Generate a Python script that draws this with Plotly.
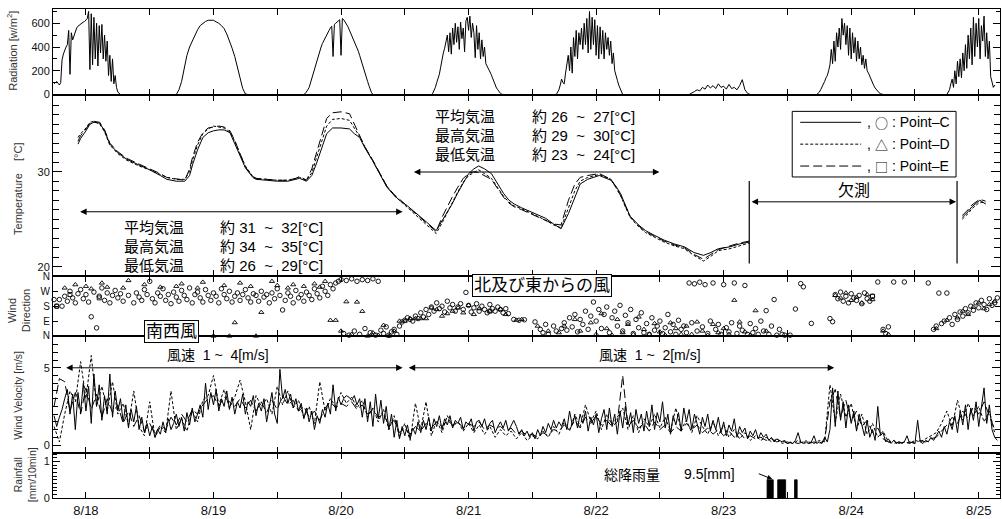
import plotly.graph_objects as go

# ---------------- DATA (hours counted from 8/18 00:00) ----------------
DAY_LABELS = ["8/18", "8/19", "8/20", "8/21", "8/22", "8/23", "8/24", "8/25"]

# Radiation [W/m2], one list per day with its start hour and sample step (h)
rad_starts = [6.0, 29.0, 53.0, 77.0, 100.5, 125.5, 149.5, 174.0]
rad_steps = [0.25, 0.5, 0.25, 0.25, 0.25, 0.5, 0.25, 0.25]
rad_day0 = [90, 100, 110, 95, 80, 100, 290, 340, 380, 400, 420, 540, 170, 520, 460, 500, 540, 560, 575, 585,
            595, 600, 610, 615, 625, 640, 700, 210, 680, 250, 650, 300, 600, 240, 580, 350, 590, 300, 500, 280,
            450, 160, 330, 110, 300, 90, 160, 60, 20, 5, 0]
rad_day1 = [0, 40, 110, 230, 330, 400, 450, 500, 545, 580, 600, 615, 625, 628, 625, 612, 600, 580, 555, 510,
            455, 390, 320, 220, 140, 50, 5, 0]
rad_day2 = [0, 8, 20, 40, 60, 100, 140, 180, 220, 260, 300, 335, 370, 400, 430, 455, 480, 500, 520, 540,
            560, 575, 320, 590, 600, 610, 620, 630, 330, 640, 630, 615, 600, 575, 550, 525, 500, 475, 450, 425,
            400, 365, 330, 290, 250, 215, 180, 145, 110, 75, 40, 15, 0]
rad_day3 = [0, 10, 30, 60, 100, 130, 170, 230, 300, 350, 390, 440, 500, 360, 520, 340, 560, 420, 600, 440,
            570, 380, 610, 470, 560, 360, 620, 650, 540, 660, 480, 600, 520, 310, 580, 380, 520, 300, 460, 320,
            400, 260, 240, 220, 200, 170, 140, 110, 80, 55, 40, 20, 10, 3, 0]
rad_day4 = [0, 15, 40, 80, 130, 100, 90, 180, 260, 330, 200, 400, 180, 480, 320, 540, 300, 520, 420, 560,
            380, 600, 420, 640, 350, 700, 380, 650, 420, 630, 330, 580, 300, 570, 340, 540, 300, 520, 380, 480,
            330, 450, 260, 350, 200, 150, 120, 80, 50, 20, 0]
rad_day5 = [0, 10, 25, 40, 30, 60, 45, 80, 55, 75, 50, 90, 60, 70, 45, 85, 50, 60, 40, 75, 125, 40, 10, 0]
rad_day6 = [0, 10, 20, 40, 60, 90, 110, 140, 160, 200, 250, 380, 260, 450, 280, 520, 400, 560, 380, 640,
            500, 600, 420, 580, 330, 560, 300, 520, 350, 480, 280, 450, 300, 400, 250, 330, 220, 300, 200, 180,
            150, 120, 100, 75, 55, 40, 25, 15, 8, 3, 0]
rad_day7 = [0, 20, 40, 90, 130, 60, 200, 90, 280, 150, 300, 140, 350, 200, 420, 220, 500, 300, 560, 250,
            650, 320, 600, 400, 640, 300, 580, 450, 660, 320, 520, 300, 450, 150, 100, 60, 80]
rad_days = [rad_day0, rad_day1, rad_day2, rad_day3, rad_day4, rad_day5, rad_day6, rad_day7]

# Temperature [degC] for Point-C, D, E (None = missing data)
temp_hours = [10.5, 11.0, 12.0, 12.75, 13.5, 14.6, 15.5, 16.5, 18.0, 19.7, 22.0, 24.0, 26.0, 27.2, 29.0, 30.6,
              31.5, 32.1, 33.0, 34.0, 35.0, 36.0, 37.0, 38.0, 39.1, 40.0, 40.9, 42.0, 43.4, 44.0, 46.0, 48.0,
              50.0, 51.5, 52.2, 53.5, 54.5, 55.4, 56.5, 57.3, 58.4, 60.0, 61.6, 62.5, 63.5, 64.5, 65.9, 67.0,
              68.6, 70.0, 71.0, 72.5, 73.8, 75.0, 76.1, 77.9, 79.0, 79.7, 80.9, 81.9, 83.0, 84.0, 85.0, 85.9,
              87.0, 88.3, 89.5, 90.6, 91.6, 92.6, 94.0, 95.6, 97.0, 98.5, 100.0, 101.4, 102.8, 104.0, 105.0, 106.4,
              108.6, 110.8, 111.7, 112.6, 113.5, 114.4, 116.0, 117.3, 119.0, 120.8, 122.7, 124.6, 126.4, 128.2, 129.6, 131.0,
              133.2, 135.0, 136.8, 150.0, 176.9, 178.0, 178.7, 180.2, 181.3]
temp_C = [32.9, 33.5, 34.3, 35.0, 35.2, 35.1, 34.3, 32.9, 32.0, 31.3, 30.7, 30.2, 29.6, 29.2, 29.0, 29.0,
          29.6, 30.8, 32.3, 33.6, 34.1, 34.3, 34.4, 34.4, 34.1, 33.0, 31.8, 30.4, 29.4, 29.2, 29.1, 29.0,
          29.0, 29.2, 29.3, 29.0, 29.6, 30.9, 32.8, 34.0, 34.6, 34.6, 34.5, 34.0, 33.6, 32.5, 31.2, 30.0,
          28.4, 27.5, 27.0, 26.4, 25.8, 25.2, 24.7, 23.8, 24.8, 25.4, 26.6, 27.7, 28.8, 29.8, 30.3, 30.6,
          30.3, 29.8, 28.7, 27.7, 27.0, 26.6, 26.2, 25.8, 25.5, 25.1, 24.5, 24.0, 25.6, 27.4, 28.7, 29.2,
          29.6, 29.1, 28.5, 27.7, 26.5, 25.3, 24.4, 23.8, 23.3, 22.8, 22.4, 22.1, 21.5, 21.2, 21.5, 21.9,
          22.1, 22.4, 22.6, None, 25.2, 25.8, 26.3, 27.0, 26.6]
temp_D = [33.6, 34.0, 34.6, 35.2, 35.3, 35.0, 34.2, 32.8, 31.9, 31.2, 30.6, 30.2, 29.7, 29.4, 29.2, 29.2,
          30.0, 31.3, 32.8, 34.0, 34.5, 34.8, 34.7, 34.6, 34.2, 33.2, 32.0, 30.6, 29.5, 29.3, 29.2, 29.1,
          29.1, 29.3, 29.4, 29.1, 29.9, 31.5, 33.5, 34.8, 35.5, 35.6, 35.4, 34.6, 33.7, 32.6, 31.2, 30.0,
          28.5, 27.5, 27.0, 26.3, 25.6, 25.0, 24.4, 23.5, 24.6, 25.4, 26.8, 27.8, 28.9, 29.6, 29.9, 30.2,
          29.8, 29.3, 28.3, 27.4, 26.8, 26.4, 26.1, 25.7, 25.3, 24.9, 24.4, 24.1, 26.2, 28.0, 29.0, 29.4,
          29.7, 29.2, 28.4, 27.5, 26.3, 25.2, 24.2, 23.6, 23.1, 22.6, 22.2, 21.9, 21.2, 20.6, 21.1, 21.7,
          21.9, 22.2, 22.5, None, 25.0, 25.6, 26.1, 26.8, 26.7]
temp_E = [33.2, 33.8, 34.5, 35.1, 35.3, 35.2, 34.4, 33.0, 32.1, 31.4, 30.8, 30.3, 29.8, 29.4, 29.2, 29.1,
          30.3, 31.6, 33.1, 34.1, 34.6, 34.7, 34.8, 34.7, 34.3, 33.3, 32.0, 30.5, 29.5, 29.3, 29.2, 29.1,
          29.1, 29.3, 29.5, 29.1, 30.3, 32.0, 34.2, 35.6, 36.2, 36.3, 36.1, 35.0, 33.8, 32.6, 31.3, 30.1,
          28.5, 27.6, 27.1, 26.4, 25.7, 25.1, 24.5, 23.7, 25.2, 26.0, 27.3, 28.3, 29.3, 29.8, 30.0, 29.9,
          29.6, 29.2, 28.2, 27.3, 26.7, 26.3, 26.0, 25.6, 25.3, 24.9, 24.5, 24.4, 27.0, 28.7, 29.4, 29.6,
          29.8, 29.2, 28.4, 27.5, 26.4, 25.3, 24.3, 23.7, 23.2, 22.7, 22.3, 22.0, 21.3, 20.8, 21.3, 21.8,
          22.2, 22.5, 22.7, None, 25.4, 26.0, 26.5, 27.1, 26.9]

# Wind direction [deg, 0/360 = N, 90 = E, 180 = S, 270 = W]
wd_C_start, wd_C_step = 6.0, 0.5
wd_C = [220, 180, 220, 180, 240, 210, 270, 230, 200, 255, 280, 225,
        250, 205, 116, 265, 49, 240, 290, 215, 260, 200, 245, 275,
        230, 255, 210, None, 245, None, 200, 260, 235, 215, 280, 250,
        330, 225, 200, 260, 240, 285, 215, 250, 195, 265, 235, 210,
        275, 245, 220, 290, 200, 250, 265, 230, 205, 280, 245, 215,
        260, 240, 200, 285, 250, 225, 270, 205, 240, 260, 215, 250,
        280, 230, 205, 255, 245, 210, 270, 235, 250, 200, 260, 225,
        285, 245, 157, 215, 260, 240, 200, 275, 230, 250, 210, 265,
        245, 220, 285, 255, 230, 300, 270, 245, 310, 285, 320, 330,
        340, 15, 335, 5, 345, 30, 330, 10, 340, 45, 335, 20,
        345, 5, 330, 35, 15, 55, 5, 25, 40, 10, 60, 85,
        95, 110, 100, 90, 120, 105, 140, 115, 160, 130, 175, 150,
        200, 165, 180, 145, 210, 170, 190, 150, 175, 195, 160, 263,
        185, 145, 170, 195, 150, 180, 160, 140, 190, 165, 150, 175,
        160, 140, 165, 135, None, 100, None, 95, None, 98, None, None,
        None, 85, None, 40, 20, 70, 10, None, 60, 30, None, 45,
        80, 35, 110, 55, 130, 25, 100, 70, 150, 40, 120, 205,
        90, 160, 45, 130, 175, 20, 110, 150, 60, 185, 30, 125,
        80, 160, 15, 100, 50, 140, 20, 75, 10, 110, 35, 60,
        90, 15, 50, 130, 25, 70, 10, 95, 40, 60, 20, 320,
        80, 315, 30, 325, 55, 310, 15, 90, 320, 40, 70, 10,
        310, 50, 25, 80, 320, 15, 60, 35, 305, 10, 75, 20,
        45, 10, 90, 30, 153, 10, 60, 220, 5, 40, 10, 5,
        None, 5, None, 163, None, 316, 297, None, None, 76, None, None,
        None, None, None, None, 105, 86, 250, 225, 265, 210, 240, 200,
        255, 230, 215, 245, 195, 260, 225, 210, 240, None, 326, None,
        40, 15, 55, None, 326, None, None, None, 326, None, None, None,
        None, None, None, None, None, 320, None, 40, 60, 259, 75, 90,
        259, 110, 70, 130, 100, 145, 120, 165, 140, 180, 155, 200,
        170, 215, 190, 160, 225, 185, 200, 230]
wd_D_start, wd_D_step = 6.0, 1.0
wd_D = [None, None, 290, None, 310, None, 300, 285, None, 320, 295, None,
        None, 290, 335, None, None, 310, None, None, 295, None, None, 300,
        315, None, None, 290, 325, None, 0, None, 305, 0, 81, 320,
        None, 300, 0, 143, None, 330, 305, None, 290, 310, None, 300,
        None, 315, 295, 330, 95, 95, 30, 207, 10, 205, 149, 0,
        20, 5, 65, 0, 30, 90, 90, 105, 105, 105, 105, 170,
        160, 120, 135, 150, 170, 140, 185, 130, 165, None, 150, None,
        160, 130, None, 96, 100, None, None, 60, None, 30, None, 20,
        60, None, 100, 30, None, 80, 10, 135, 45, 5, 100, 20,
        70, 10, 115, 40, 10, 75, 25, 5, 80, 45, 10, 60,
        10, 85, 30, 5, 70, 20, 45, 10, 216, 85, 25, 5,
        153, None, 30, None, None, None, None, None, None, None, None, None,
        None, None, None, 245, 230, 260, 215, 235, 200, 250, 220, None,
        30, 10, None, None, None, None, None, None, None, None, 45, None,
        95, None, 110, 150, 130, 175, 200, 165, 190, 210]
wd_E_hours = [6.5, 9.0, 14.5, 88.0, 160.0]
wd_E = [180, 250, 230, 150, 240]

# Wind velocity [m/s]
wv_C_start, wv_C_step = 6.0, 0.5
wv_C = [1.9, 1.2, 1.8, 2.3, 3.0, 3.6, 2.0, 3.3, 1.0, 3.4, 2.1, 4.0,
        2.2, 3.8, 1.4, 4.6, 2.5, 3.9, 1.6, 3.2, 2.0, 4.6, 1.8, 3.5,
        2.2, 3.0, 1.5, 2.6, 1.1, 2.3, 1.5, 2.5, 1.0, 1.8, 0.8, 1.4,
        0.6, 1.2, 0.5, 1.0, 0.7, 1.5, 0.8, 1.7, 1.0, 1.4, 2.0, 1.2,
        1.8, 0.9, 2.1, 1.3, 2.4, 1.5, 2.0, 2.6, 1.8, 4.0, 2.3, 3.4,
        2.6, 3.6, 2.2, 3.0, 2.5, 3.5, 2.3, 3.1, 2.0, 2.8, 2.4, 3.3,
        2.0, 2.8, 2.5, 3.2, 1.9, 2.7, 2.2, 3.0, 1.5, 2.6, 3.4, 2.0,
        1.4, 4.9, 3.0, 3.6, 2.7, 3.3, 2.4, 3.0, 2.2, 2.7, 1.7, 2.4,
        1.5, 2.2, 1.0, 1.9, 1.4, 2.3, 1.8, 2.7, 2.0, 3.9, 2.2, 3.1,
        2.6, 3.0, 3.2, 3.1, 2.9, 3.2, 2.6, 3.0, 1.8, 3.0, 1.5, 2.8,
        1.2, 3.3, 1.7, 2.9, 1.4, 2.5, 1.0, 2.0, 0.5, 1.6, 0.4, 1.2,
        0.6, 1.3, 0.4, 1.1, 0.7, 1.5, 0.8, 1.6, 1.0, 1.8, 0.9, 1.7,
        1.2, 1.9, 1.0, 1.7, 1.3, 1.9, 1.1, 1.6, 1.4, 1.8, 1.0, 1.5,
        1.3, 1.7, 0.9, 1.5, 1.6, 1.2, 1.7, 1.0, 1.4, 1.6, 0.8, 1.2,
        1.5, 1.1, 1.6, 0.9, 1.3, 1.6, 1.2, 0.7, 1.0, 0.6, 0.9, 0.5,
        0.8, 0.4, 1.0, 0.6, 1.2, 0.8, 1.4, 1.0, 1.6, 1.1, 1.5, 1.2,
        1.7, 1.0, 2.2, 1.3, 1.9, 1.1, 2.0, 1.4, 2.2, 0.9, 1.8, 1.3,
        2.0, 0.8, 1.7, 2.3, 1.0, 2.4, 1.2, 2.0, 0.7, 2.2, 1.1, 2.5,
        1.3, 2.1, 0.8, 2.3, 1.4, 2.0, 0.9, 2.2, 1.2, 2.6, 1.0, 2.1,
        1.5, 2.8, 1.1, 2.0, 0.7, 1.9, 1.3, 2.1, 0.9, 2.4, 1.5, 2.3,
        1.0, 2.0, 1.4, 0.7, 1.8, 1.2, 2.0, 0.9, 1.6, 1.0, 1.8, 0.8,
        1.5, 0.6, 1.3, 0.9, 1.7, 0.5, 1.2, 0.8, 1.1, 0.4, 0.9, 0.6,
        1.0, 0.4, 0.8, 0.5, 0.7, 0.3, 0.5, 0.2, 0.4, 0.3, 0.2, 0.3,
        0.1, 0.2, 0.1, 0.3, 0.8, 0.2, 0.1, 0.3, 0.1, 0.2, 0.6, 0.1,
        0.2, 0.1, 0.5, 0.2, 1.0, 3.7, 1.2, 3.5, 1.6, 2.8, 1.1, 2.6,
        1.4, 2.2, 0.9, 2.0, 1.2, 0.6, 1.6, 0.5, 1.0, 0.3, 2.5, 0.6,
        0.8, 0.2, 0.4, 0.1, 0.3, 0.1, 0.2, 0.1, 0.2, 0.6, 0.1, 0.2,
        0.1, 1.6, 0.2, 0.1, 0.3, 0.2, 0.5, 0.3, 0.6, 0.9, 0.5, 1.2,
        0.7, 1.5, 1.0, 1.9, 0.8, 2.2, 1.3, 2.6, 1.0, 2.4, 1.6, 2.8,
        1.2, 2.5, 3.7, 1.4, 2.6, 1.0, 0.5, 0.3]
wv_DE_start, wv_DE_step = 6.0, 1.0
wv_D = [1.2, 0.2, 2.0, 3.5, 2.8, 5.4, 3.0, 5.8, 2.5, 3.8, 2.2, 4.1,
        2.0, 2.7, 1.3, 3.5, 1.2, 0.6, 2.8, 0.5, 1.2, 0.8, 3.5, 1.0,
        1.7, 0.9, 2.2, 1.5, 2.9, 3.2, 4.5, 2.6, 3.6, 2.4, 3.1, 4.2,
        2.8, 1.0, 3.2, 2.5, 3.0, 2.0, 3.8, 2.6, 3.5, 2.4, 2.9, 1.8,
        2.5, 1.4, 4.1, 2.2, 3.0, 2.5, 3.4, 2.7, 3.1, 2.4, 2.9, 1.8,
        2.4, 1.5, 2.3, 1.0, 1.9, 0.5, 1.4, 0.3, 2.7, 1.0, 2.8, 0.6,
        1.6, 0.8, 1.9, 1.2, 1.5, 0.9, 1.4, 0.8, 1.3, 0.7, 1.2, 0.5,
        1.0, 0.6, 0.9, 0.4, 0.8, 0.3, 0.6, 0.4, 0.9, 0.5, 1.2, 0.7,
        1.5, 0.9, 2.0, 1.2, 2.6, 1.5, 2.2, 1.0, 2.0, 1.3, 1.8, 2.4,
        1.0, 1.9, 0.8, 1.7, 1.2, 2.0, 1.1, 1.8, 0.9, 2.4, 1.0, 1.6,
        0.8, 1.9, 1.2, 0.7, 1.5, 0.6, 1.3, 0.5, 1.0, 0.4, 0.8, 0.3,
        0.6, 0.3, 0.5, 0.2, 0.4, 0.1, 0.2, 0.1, 0.3, 0.1, 0.2, 0.1,
        0.3, 0.2, 3.9, 1.5, 3.3, 1.8, 2.7, 1.0, 2.0, 0.7, 1.4, 0.5,
        0.9, 0.2, 0.3, 0.1, 0.2, 0.1, 0.3, 0.2, 0.4, 0.6, 0.8, 1.4,
        2.2, 1.2, 2.9, 1.6, 2.7, 1.9, 2.5, 1.5, 2.2, 0.8]
wv_E = [2.5, 4.3, 4.1, 2.2, 3.4, 2.0, 3.7, 2.3, 3.3, 1.8, 3.0, 2.1,
        2.6, 1.4, 2.2, 1.2, 1.9, 0.9, 1.4, 0.7, 1.3, 1.0, 1.8, 1.3,
        2.0, 1.5, 2.3, 2.0, 2.6, 3.0, 3.2, 2.5, 3.1, 2.8, 2.5, 3.0,
        2.4, 2.9, 2.2, 2.8, 2.1, 2.9, 2.3, 3.2, 2.6, 2.9, 2.2, 2.5,
        1.8, 2.2, 1.6, 2.4, 2.8, 2.4, 2.7, 2.5, 2.8, 2.3, 2.6, 2.0,
        2.3, 1.8, 2.0, 1.3, 1.6, 0.8, 1.1, 0.7, 1.2, 0.9, 1.4, 1.1,
        1.5, 1.2, 1.6, 1.3, 1.5, 1.1, 1.4, 1.2, 1.5, 1.0, 1.3, 1.1,
        1.2, 0.9, 1.1, 0.7, 0.9, 0.6, 0.7, 0.5, 0.8, 0.6, 1.0, 0.9,
        1.3, 1.0, 1.6, 1.1, 1.8, 1.4, 1.9, 1.3, 1.6, 1.2, 1.5, 4.5,
        1.2, 1.6, 1.1, 1.4, 0.9, 1.5, 1.0, 1.3, 0.8, 1.2, 0.9, 1.4,
        1.0, 1.3, 0.8, 1.1, 0.7, 1.0, 0.6, 0.9, 0.5, 0.8, 0.4, 0.6,
        0.4, 0.5, 0.3, 0.4, 0.2, 0.3, 0.1, 0.2, 0.1, 0.2, 0.1, 0.2,
        0.1, 0.3, 2.8, 3.6, 1.8, 2.9, 1.5, 2.2, 1.2, 1.6, 0.8, 1.1,
        0.4, 0.2, 0.1, 0.2, 0.1, 0.2, 0.1, 0.3, 0.2, 0.4, 0.5, 0.9,
        1.3, 1.8, 1.4, 2.2, 1.7, 2.5, 2.0, 2.8, 1.9, 1.0]

# Rainfall [mm/10min] (total 9.5 mm), one value per 10-minute interval
rain_hours = [140.25, 140.42, 140.58, 140.75, 140.92, 141.08, 141.25,
              142.25, 142.42, 142.58, 142.75, 142.92, 143.08, 143.25, 143.42, 143.58,
              145.42, 145.58, 145.75]
rain_mm = [0.5, 0.5, 0.5, 0.5, 0.5, 0.5, 0.5,
           0.5, 0.5, 0.5, 0.5, 0.5, 0.5, 0.5, 0.5, 0.5,
           0.5, 0.5, 0.5]
RAIN_INTERVAL = 1.0 / 6.0

# ---------------- LAYOUT HELPERS ----------------
W, H = 1002, 519
L, R, T, B = 53, 1001, 9, 501
X_RANGE = [5.8, 184.0]


def px(x):
    return (x - L) / (R - L)


def py(y):
    return (B - y) / (B - T)


def regular(start, step, vals):
    return [start + step * i for i in range(len(vals))], vals


LAT = "Liberation Sans, Arial, sans-serif"
JP = "Liberation Sans, Noto Sans CJK JP, sans-serif"
CJK = "Noto Sans CJK JP, sans-serif"
NARROW = "Liberation Sans Narrow, Arial Narrow, Liberation Sans, Arial, sans-serif"
BLACK = "black"
DASH_D = "3px,2px"
DASH_E = "9px,4px"

fig = go.Figure()

# Radiation
rx, ry = [], []
for s, st, vals in zip(rad_starts, rad_steps, rad_days):
    xs, _ = regular(s, st, vals)
    rx += xs
    ry += vals
fig.add_trace(go.Scatter(x=rx, y=ry, mode="lines", line=dict(color=BLACK, width=1),
                         xaxis="x", yaxis="y", hoverinfo="skip", showlegend=False))

# Temperature
for vals, dash in [(temp_C, "solid"), (temp_D, DASH_D), (temp_E, DASH_E)]:
    fig.add_trace(go.Scatter(x=temp_hours, y=vals, mode="lines", connectgaps=False,
                             line=dict(color=BLACK, width=1, dash=dash),
                             xaxis="x2", yaxis="y2", hoverinfo="skip", showlegend=False))

# Wind direction
cx, cy = regular(wd_C_start, wd_C_step, wd_C)
dx_, dy_ = regular(wd_D_start, wd_D_step, wd_D)
for xs, ys, sym, size in [(cx, cy, "circle-open", 4.5), (dx_, dy_, "triangle-up-open", 4.5),
                          (wd_E_hours, wd_E, "square-open", 4)]:
    fig.add_trace(go.Scatter(x=xs, y=ys, mode="markers", cliponaxis=False,
                             marker=dict(symbol=sym, size=size, color=BLACK, line=dict(width=0.9, color=BLACK)),
                             xaxis="x3", yaxis="y3", hoverinfo="skip", showlegend=False))

# Wind velocity
vx, vy = regular(wv_C_start, wv_C_step, wv_C)
ex, _ = regular(wv_DE_start, wv_DE_step, wv_D)
ex2, _ = regular(wv_DE_start, wv_DE_step, wv_E)
for xs, ys, dash in [(ex, wv_D, DASH_D), (ex2, wv_E, DASH_E), (vx, vy, "solid")]:
    fig.add_trace(go.Scatter(x=xs, y=ys, mode="lines", line=dict(color=BLACK, width=1, dash=dash),
                             xaxis="x4", yaxis="y4", hoverinfo="skip", showlegend=False))

# Rainfall: 10-minute bars drawn as a filled step outline (avoids sub-pixel gaps)
sx, sy = [], []
for i, (c, v) in enumerate(zip(rain_hours, rain_mm)):
    x0, x1 = c - RAIN_INTERVAL / 2, c + RAIN_INTERVAL / 2
    if i == 0 or abs(x0 - (rain_hours[i - 1] + RAIN_INTERVAL / 2)) > 0.02:
        sx += [x0, x0]
        sy += [0, v]
    sx.append(x0)
    sy.append(v)
    sx.append(x1)
    sy.append(v)
    if i == len(rain_hours) - 1 or abs(rain_hours[i + 1] - RAIN_INTERVAL / 2 - x1) > 0.02:
        sx.append(x1)
        sy.append(0)
        sx.append(None)
        sy.append(None)
fig.add_trace(go.Scatter(x=sx, y=sy, mode="lines", line=dict(color=BLACK, width=0.8),
                         fill="toself", fillcolor=BLACK, xaxis="x5", yaxis="y5",
                         hoverinfo="skip", showlegend=False))

# ---------------- AXES ----------------
xt = [12 * k for k in range(1, 16)]
xtext = []
for v in xt:
    xtext.append(DAY_LABELS[(v - 12) // 24] if (v - 12) % 24 == 0 else "")

base_x = dict(range=X_RANGE, showgrid=False, zeroline=False, showline=True, linecolor=BLACK,
              linewidth=1, mirror="ticks", ticks="inside", ticklen=6, tickcolor=BLACK, tickwidth=1,
              tickmode="array", tickvals=xt, ticktext=xtext, domain=[0, 1], showticklabels=False)
base_y = dict(showgrid=False, zeroline=False, showline=True, linecolor=BLACK, linewidth=1,
              mirror="ticks", ticks="inside", tickcolor=BLACK, tickwidth=1,
              tickfont=dict(family=LAT, size=11, color="#111"))

dom_rad = [py(96), 1]
dom_tmp = [py(278), py(96)]
dom_wd = [py(338), py(278)]
dom_wv = [py(455.7), py(338)]
dom_rn = [0, py(455.7)]

layout_axes = {}
for i, yname in enumerate(["y", "y2", "y3", "y4", "y5"], start=1):
    key = "xaxis" if i == 1 else f"xaxis{i}"
    ax = dict(base_x)
    ax["anchor"] = yname
    if i > 1:
        ax["matches"] = "x"
    if i == 5:
        ax["showticklabels"] = True
        ax["tickfont"] = dict(family=NARROW, size=13, color="#111")
    layout_axes[key] = ax

layout_axes["yaxis"] = dict(base_y, domain=dom_rad, anchor="x", range=[-8, 720], tickmode="linear",
                            tick0=0, dtick=200, ticklen=7,
                            minor=dict(ticks="inside", ticklen=4, tick0=0, dtick=100, tickcolor=BLACK))
layout_axes["yaxis2"] = dict(base_y, domain=dom_tmp, anchor="x2", range=[18.99, 38.02], tickmode="linear",
                             tick0=0, dtick=10, ticklen=9,
                             minor=dict(ticks="inside", ticklen=6, tick0=0, dtick=1, tickcolor=BLACK))
layout_axes["yaxis3"] = dict(base_y, domain=dom_wd, anchor="x3", range=[0, 360], tickmode="array",
                             tickvals=[0, 90, 180, 270, 360], ticktext=["N", "E", "S", "W", "N"], ticklen=5,
                             tickfont=dict(family=LAT, size=10, color="#111"))
layout_axes["yaxis4"] = dict(base_y, domain=dom_wv, anchor="x4", range=[-0.515, 7.06], tickmode="linear",
                             tick0=0, dtick=5, ticklen=8,
                             minor=dict(ticks="inside", ticklen=5, tick0=0, dtick=0.5, tickcolor=BLACK))
layout_axes["yaxis5"] = dict(base_y, domain=dom_rn, anchor="x5", range=[0, 1.236], tickmode="linear",
                             tick0=0, dtick=1, ticklen=7,
                             minor=dict(ticks="inside", ticklen=4, tick0=0, dtick=0.1, tickcolor=BLACK))

# ---------------- ANNOTATIONS ----------------
ann = []
shapes = []


def text(x, y, s, size=15, anchor="left", font=JP, **kw):
    ann.append(dict(x=px(x), y=py(y), xref="paper", yref="paper", text=s, showarrow=False,
                    xanchor=anchor, yanchor="middle", font=dict(family=font, size=size, color=BLACK), **kw))


def darrow(x1, x2, y):
    ann.append(dict(x=px(x2), y=py(y), xref="paper", yref="paper", text="", showarrow=True,
                    ax=-(x2 - x1), ay=0, axref="pixel", ayref="pixel", arrowside="end+start",
                    arrowhead=2, startarrowhead=2, arrowsize=1.3, startarrowsize=1.3,
                    arrowwidth=1, arrowcolor=BLACK, standoff=0, startstandoff=0))


NB = "\u00a0"
# left temperature group
darrow(79, 403, 213)
for yy, lab, val in [(229, "平均気温", f"約{NB}31{NB}{NB}~{NB}{NB}32[°C]"),
                     (248, "最高気温", f"約{NB}34{NB}{NB}~{NB}{NB}35[°C]"),
                     (267, "最低気温", f"約{NB}26{NB}{NB}~{NB}{NB}29[°C]")]:
    text(122, yy, lab)
    text(218, yy, val)
# upper temperature group
darrow(413, 660, 173)
for yy, lab, val in [(117, "平均気温", f"約{NB}26{NB}{NB}~{NB}{NB}27[°C]"),
                     (136, "最高気温", f"約{NB}29{NB}{NB}~{NB}{NB}30[°C]"),
                     (155, "最低気温", f"約{NB}23{NB}{NB}~{NB}{NB}24[°C]")]:
    text(433, yy, lab)
    text(531, yy, val)

# missing data marker
for xx in (750, 958):
    shapes.append(dict(type="line", xref="paper", yref="paper", x0=px(xx), x1=px(xx),
                       y0=py(265), y1=py(182), line=dict(color=BLACK, width=1.2)))
darrow(751, 957, 203)
text(855, 192, "欠測", size=16, anchor="center")

# legend box
shapes.append(dict(type="rect", xref="paper", yref="paper", x0=px(793), x1=px(957), y0=py(178), y1=py(112),
                   line=dict(color=BLACK, width=1), fillcolor="white"))
for yy, dash in [(123, "solid"), (145, DASH_D), (167, DASH_E)]:
    shapes.append(dict(type="line", xref="paper", yref="paper", x0=px(801), x1=px(862), y0=py(yy), y1=py(yy),
                       line=dict(color=BLACK, width=1, dash=dash)))
for yy, sym, lab in [(123, "○", "Point–C"), (145, "△", "Point–D"), (167, "□", "Point–E")]:
    text(866, yy, ",", size=14, font=LAT)
    text(882, yy, sym, size=13, anchor="center", font=CJK)
    text(891, yy, f":{NB}{lab}", size=14, font=LAT)

# wind direction boxes
ann.append(dict(x=px(543), y=py(287), xref="paper", yref="paper", text="北及び東からの風", showarrow=False,
                xanchor="center", yanchor="middle",
                font=dict(family=JP, size=17, color=BLACK), bgcolor="white", bordercolor=BLACK,
                borderwidth=1, borderpad=1))
ann.append(dict(x=px(172), y=py(333), xref="paper", yref="paper", text="南西風", showarrow=False,
                xanchor="center", yanchor="middle",
                font=dict(family=JP, size=17, color=BLACK), bgcolor="white", bordercolor=BLACK,
                borderwidth=1, borderpad=1))

# wind velocity
darrow(65, 403, 370)
text(218, 357, f"風速{NB}{NB}1{NB}~{NB}{NB}4[m/s]", size=14, anchor="center")
darrow(408, 835, 370)
text(651, 357, f"風速{NB}{NB}1{NB}~{NB}{NB}2[m/s]", size=14, anchor="center")

# rainfall text
text(603, 477, "総降雨量", size=14, font=CJK)
text(683, 477, "9.5[mm]", size=14, font=NARROW)
ann.append(dict(x=px(773), y=py(482), xref="paper", yref="paper", text="", showarrow=True,
                ax=-15, ay=-6, arrowhead=2, arrowsize=1, arrowwidth=1, arrowcolor=BLACK, standoff=0))


# y axis titles
def ytitle(x, y, s, size=11):
    ann.append(dict(x=px(x), y=py(y), xref="paper", yref="paper", text=s, showarrow=False, textangle=-90,
                    xanchor="center", yanchor="middle", font=dict(family=LAT, size=size, color="#333")))


ytitle(12, 51, "Radiation [w/m<sup>2</sup>]")
ytitle(18, 190, f"Temperature{NB}{NB}{NB}{NB}[°C]")
ytitle(19, 313, "Wind<br>Direction")
ytitle(18, 398, "Wind Velocity [m/s]", size=10.5)
ytitle(25, 478, "Rainfall<br>[mm/10min]", size=10.5)

fig.update_layout(width=W, height=H, margin=dict(l=L, r=W - R, t=T, b=H - B),
                  paper_bgcolor="white", plot_bgcolor="white", showlegend=False,
                  annotations=ann, shapes=shapes, **layout_axes)

fig.write_html("out.html")
